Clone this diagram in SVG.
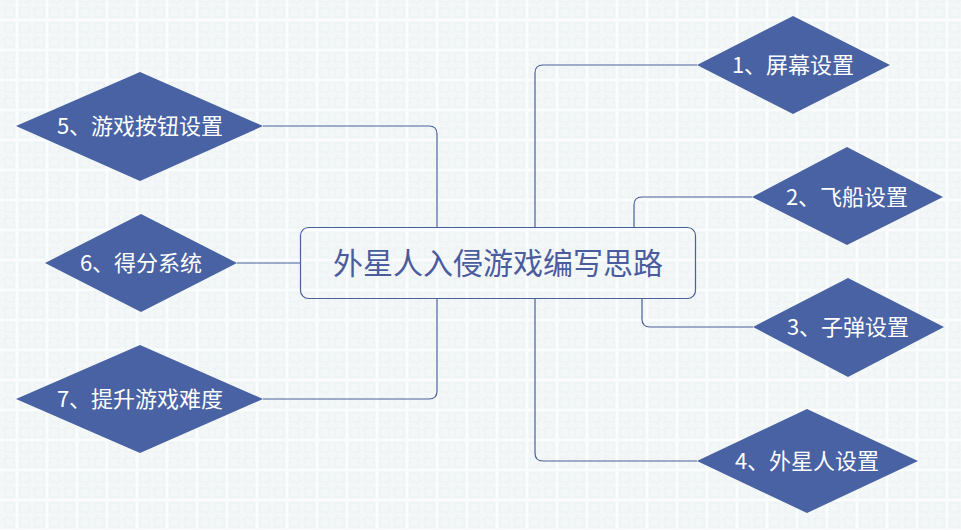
<svg xmlns="http://www.w3.org/2000/svg" width="961" height="530" viewBox="0 0 961 530">
<defs>
<pattern id="bg" x="2" y="5" width="30" height="30" patternUnits="userSpaceOnUse">
<rect width="30" height="30" fill="#f3f7f8"/>
<path d="M15 0V30M0 15H30" stroke="#fbfcfd" stroke-width="2.5"/>
<rect x="3" y="3" width="9" height="9" fill="none" stroke="#e9eff1" stroke-width="0.7"/>
<rect x="18" y="3" width="9" height="9" fill="none" stroke="#e9eff1" stroke-width="0.7"/>
<rect x="3" y="18" width="9" height="9" fill="none" stroke="#e9eff1" stroke-width="0.7"/>
<rect x="18" y="18" width="9" height="9" fill="none" stroke="#e9eff1" stroke-width="0.7"/>
<circle cx="0" cy="0" r="5" fill="none" stroke="#e9eff1" stroke-width="0.7"/>
<circle cx="30" cy="30" r="5" fill="none" stroke="#e9eff1" stroke-width="0.7"/>
</pattern>
<style>
.d{fill:#4862a3}
.t{fill:#ffffff;font-family:"Noto Sans CJK SC","Noto Sans",sans-serif;font-size:22px;text-anchor:middle}
.c{fill:none;stroke:#4a619c;stroke-width:1.2}
</style>
</defs>
<rect width="961" height="530" fill="url(#bg)"/>
<g id="connectors">
<path class="c" d="M535 227V73Q535 65 543 65H697"/>
<path class="c" d="M634 227V205Q634 197 642 197H752"/>
<path class="c" d="M642 299V319Q642 327 650 327H753"/>
<path class="c" d="M535 299V453Q535 461 543 461H697"/>
<path class="c" d="M263 126H429Q437 126 437 134V227"/>
<path class="c" d="M237 263H300"/>
<path class="c" d="M263 399H429Q437 399 437 391V299"/>
</g>
<g id="center">
<rect x="300.5" y="227.5" width="395" height="71" rx="8" fill="none" stroke="#4a619c" stroke-width="1.2"/>
<text x="498" y="274" style="fill:#4a5c9e;font-family:'Noto Sans CJK SC','Noto Sans',sans-serif;font-size:30px;text-anchor:middle">外星人入侵游戏编写思路</text>
</g>
<g id="n1">
<polygon class="d" points="697,65 793,16 890,65 793,114"/>
<text class="t" x="793" y="73">1、屏幕设置</text>
</g>
<g id="n2">
<polygon class="d" points="752,197 847,147 943,197 847,245"/>
<text class="t" x="847" y="205">2、飞船设置</text>
</g>
<g id="n3">
<polygon class="d" points="753,327 848,278 944,327 848,377"/>
<text class="t" x="848" y="335">3、子弹设置</text>
</g>
<g id="n4">
<polygon class="d" points="697,461 807,409 918,461 807,513"/>
<text class="t" x="807" y="469">4、外星人设置</text>
</g>
<g id="n5">
<polygon class="d" points="16,126 140,72 263,126 140,181"/>
<text class="t" x="140" y="134">5、游戏按钮设置</text>
</g>
<g id="n6">
<polygon class="d" points="45,263 141,214 237,263 141,312"/>
<text class="t" x="141" y="271">6、得分系统</text>
</g>
<g id="n7">
<polygon class="d" points="16,399 140,345 263,399 140,453"/>
<text class="t" x="140" y="407">7、提升游戏难度</text>
</g>
</svg>
